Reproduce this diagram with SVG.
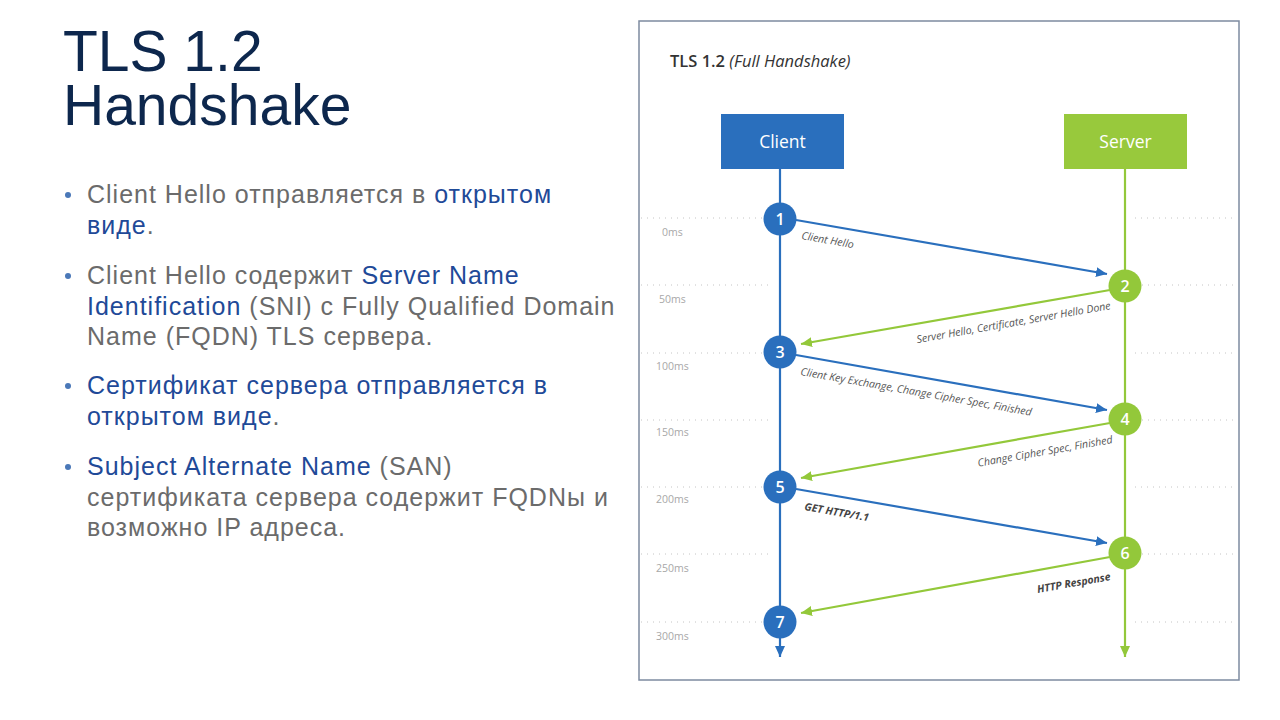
<svg xmlns="http://www.w3.org/2000/svg" width="1280" height="720" viewBox="0 0 1280 720">
<style>
.title{font-family:"Liberation Sans",Arial,sans-serif;font-size:57px;fill:#0d274d}
.b{font-family:"Liberation Sans",Arial,sans-serif;font-size:25px;letter-spacing:1px;fill:#6b6b6b}
.hl{fill:#1f4a98}
.dot{fill:#4a78b8}
.ptitle{font-family:"Open Sans","DejaVu Sans",sans-serif;font-size:16.5px;fill:#333;font-weight:600}
.ptitle .it{font-style:italic;font-weight:400}
.box{font-family:"Open Sans","DejaVu Sans",sans-serif;font-size:17.5px;fill:#fff}
.num{font-family:"Open Sans","DejaVu Sans",sans-serif;font-size:16px;font-weight:600;fill:#fff;text-anchor:middle}
.tm{font-family:"Open Sans","DejaVu Sans",sans-serif;font-size:10.5px;fill:#a8a8a8}
.lbl{font-family:"Open Sans","DejaVu Sans",sans-serif;font-size:10.6px;fill:#555;font-style:italic}
.lblb{font-family:"Open Sans","DejaVu Sans",sans-serif;font-size:10.5px;fill:#444;font-style:italic;font-weight:700}
.grid{stroke:#c4c4c4;stroke-width:1;stroke-dasharray:1 5}
.blue{stroke:#2a6fbd;stroke-width:2.2;fill:none}
.green{stroke:#93c83a;stroke-width:2.2;fill:none}
</style>
<defs>
<marker id="ab" markerUnits="userSpaceOnUse" markerWidth="12" markerHeight="10" refX="11" refY="5" orient="auto"><path d="M0,0 L11,5 L0,10 Z" fill="#2a6fbd"/></marker>
<marker id="ag" markerUnits="userSpaceOnUse" markerWidth="12" markerHeight="10" refX="11" refY="5" orient="auto"><path d="M0,0 L11,5 L0,10 Z" fill="#93c83a"/></marker>
</defs>
<rect width="1280" height="720" fill="#fff"/>

<g id="title">
<text class="title" x="63" y="71">TLS 1.2<tspan x="63" dy="54">Handshake</tspan></text>
</g>

<g id="bullets">
<circle class="dot" cx="68" cy="195" r="3"/>
<text class="b" x="87" y="203">Client Hello отправляется в <tspan class="hl">открытом</tspan></text>
<text class="b" x="87" y="234"><tspan class="hl">виде</tspan>.</text>
<circle class="dot" cx="68" cy="276" r="3"/>
<text class="b" x="87" y="284">Client Hello содержит <tspan class="hl">Server Name</tspan></text>
<text class="b" x="87" y="315"><tspan class="hl">Identification</tspan> (SNI) с Fully Qualified Domain</text>
<text class="b" x="87" y="345">Name (FQDN) TLS сервера.</text>
<circle class="dot" cx="68" cy="386" r="3"/>
<text class="b hl" x="87" y="394">Сертификат сервера отправляется в</text>
<text class="b" x="87" y="425"><tspan class="hl">открытом виде</tspan>.</text>
<circle class="dot" cx="68" cy="467" r="3"/>
<text class="b" x="87" y="475"><tspan class="hl">Subject Alternate Name</tspan> (SAN)</text>
<text class="b" x="87" y="506">сертификата сервера содержит FQDNы и</text>
<text class="b" x="87" y="536">возможно IP адреса.</text>
</g>

<g id="panel">
<rect x="639" y="21" width="600" height="659" fill="#fff" stroke="#7d8ba0" stroke-width="1.5"/>
<text class="ptitle" x="670" y="67">TLS 1.2 <tspan class="it">(Full Handshake)</tspan></text>
</g>

<g id="grid">
<line class="grid" x1="641" y1="218" x2="772" y2="218"/><line class="grid" x1="1135" y1="218" x2="1237" y2="218"/>
<line class="grid" x1="641" y1="285" x2="772" y2="285"/><line class="grid" x1="1142" y1="285" x2="1237" y2="285"/>
<line class="grid" x1="641" y1="353" x2="764" y2="353"/><line class="grid" x1="1135" y1="353" x2="1237" y2="353"/>
<line class="grid" x1="641" y1="420" x2="772" y2="420"/><line class="grid" x1="1142" y1="420" x2="1237" y2="420"/>
<line class="grid" x1="641" y1="487" x2="764" y2="487"/><line class="grid" x1="1135" y1="487" x2="1237" y2="487"/>
<line class="grid" x1="641" y1="554" x2="772" y2="554"/><line class="grid" x1="1142" y1="554" x2="1237" y2="554"/>
<line class="grid" x1="641" y1="622" x2="764" y2="622"/><line class="grid" x1="1135" y1="622" x2="1237" y2="622"/>
<text class="tm" x="662" y="236">0ms</text>
<text class="tm" x="659" y="303">50ms</text>
<text class="tm" x="656" y="370">100ms</text>
<text class="tm" x="656" y="436">150ms</text>
<text class="tm" x="656" y="503">200ms</text>
<text class="tm" x="656" y="572">250ms</text>
<text class="tm" x="656" y="640">300ms</text>
</g>

<g id="client">
<rect x="721" y="114" width="123" height="55" fill="#2a6fbd"/>
<text class="box" x="782.5" y="147.5" text-anchor="middle">Client</text>
</g>
<g id="server">
<rect x="1064" y="114" width="123" height="55" fill="#98c93c"/>
<text class="box" x="1125.5" y="147.5" text-anchor="middle">Server</text>
</g>

<g id="connectors">
<line class="blue" x1="780" y1="169" x2="780" y2="657" marker-end="url(#ab)"/>
<line class="green" x1="1125" y1="169" x2="1125" y2="657" marker-end="url(#ag)"/>
<line class="blue" x1="796" y1="220" x2="1107" y2="274" marker-end="url(#ab)"/>
<line class="green" x1="1110" y1="290" x2="801" y2="344" marker-end="url(#ag)"/>
<line class="blue" x1="796" y1="355" x2="1107" y2="410" marker-end="url(#ab)"/>
<line class="green" x1="1110" y1="423" x2="801" y2="478" marker-end="url(#ag)"/>
<line class="blue" x1="796" y1="489" x2="1107" y2="543" marker-end="url(#ab)"/>
<line class="green" x1="1110" y1="557" x2="801" y2="613" marker-end="url(#ag)"/>
<text class="lbl" transform="translate(801,239) rotate(10)">Client Hello</text>
<text class="lbl" text-anchor="end" transform="translate(1111,309) rotate(-10)">Server Hello, Certificate, Server Hello Done</text>
<text class="lbl" transform="translate(800,375) rotate(10)">Client Key Exchange, Change Cipher Spec, Finished</text>
<text class="lbl" text-anchor="end" transform="translate(1113,443) rotate(-10)">Change Cipher Spec, Finished</text>
<text class="lblb" transform="translate(804,510) rotate(10)">GET HTTP/1.1</text>
<text class="lblb" text-anchor="end" transform="translate(1111,580) rotate(-10)">HTTP Response</text>
</g>

<g id="n1"><circle cx="780" cy="219" r="16.5" fill="#2a6fbd"/><text class="num" x="780" y="224.5">1</text></g>
<g id="n2"><circle cx="1125" cy="286" r="16.5" fill="#93c83a"/><text class="num" x="1125" y="291.5">2</text></g>
<g id="n3"><circle cx="780" cy="352" r="16.5" fill="#2a6fbd"/><text class="num" x="780" y="357.5">3</text></g>
<g id="n4"><circle cx="1125" cy="419" r="16.5" fill="#93c83a"/><text class="num" x="1125" y="424.5">4</text></g>
<g id="n5"><circle cx="780" cy="487" r="16.5" fill="#2a6fbd"/><text class="num" x="780" y="492.5">5</text></g>
<g id="n6"><circle cx="1125" cy="553" r="16.5" fill="#93c83a"/><text class="num" x="1125" y="558.5">6</text></g>
<g id="n7"><circle cx="780" cy="622" r="16.5" fill="#2a6fbd"/><text class="num" x="780" y="627.5">7</text></g>
</svg>
